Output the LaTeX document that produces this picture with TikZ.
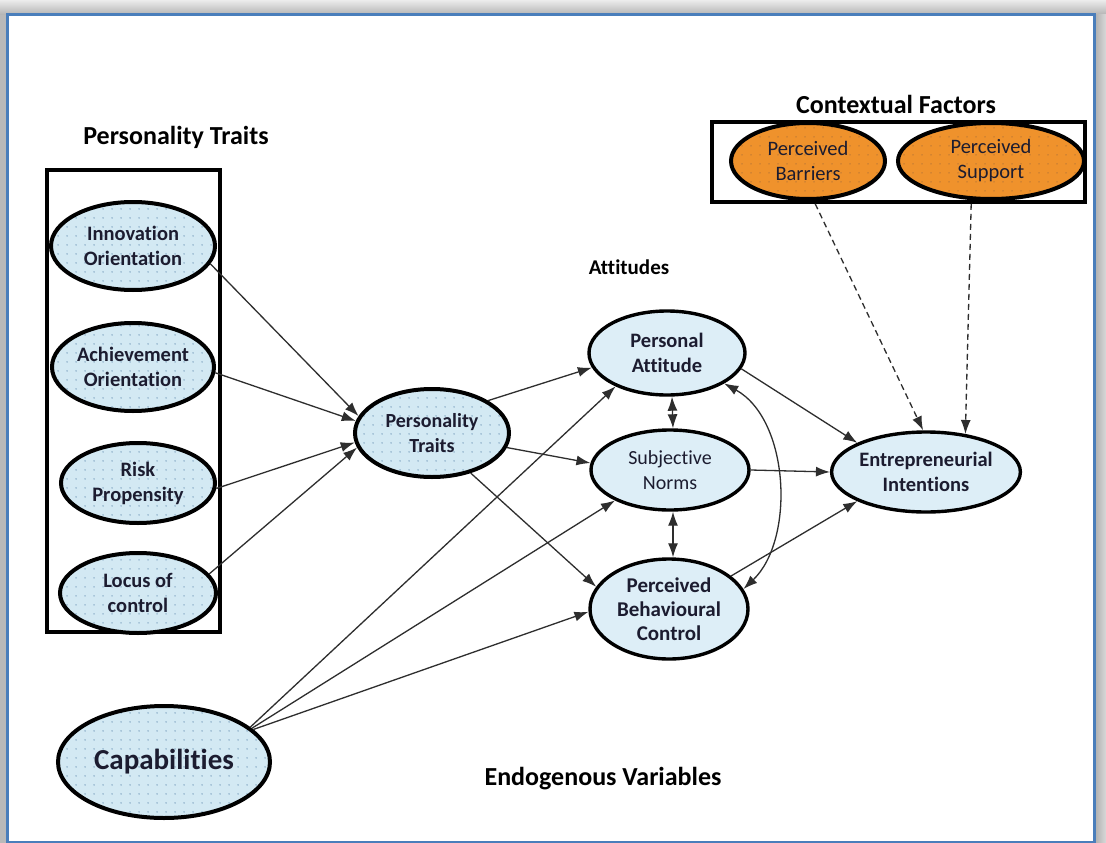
\documentclass[tikz,border=0pt]{standalone}
\usepackage{fontspec}
\setmainfont{Carlito}[Ligatures=NoCommon]
\usetikzlibrary{shapes.geometric,arrows.meta,patterns.meta,calc}

\definecolor{frameblue}{HTML}{4A7EBB}
\definecolor{lblue}{HTML}{D3E9F3}
\definecolor{pblue}{HTML}{DDEEF7}
\definecolor{dotblue}{HTML}{7FA3C0}
\definecolor{orng}{HTML}{EF922C}
\definecolor{dotorg}{HTML}{B87636}
\definecolor{txt}{HTML}{1C1C30}
\definecolor{lineg}{HTML}{2E2E2E}

\tikzdeclarepattern{
  name=sparsedots, type=uncolored,
  bounding box={(0pt,0pt) and (9pt,9pt)},
  tile size={(9pt,9pt)},
  code={\fill (4.5pt,4.5pt) circle (0.85pt);}
}

\tikzset{
  oval/.style={ellipse, draw=black, inner sep=0pt, align=center, text=txt},
  trait/.style={oval, line width=4pt, preaction={fill=lblue},
    pattern=sparsedots, pattern color=dotblue,
    font=\bfseries\fontsize{20.5}{25}\selectfont},
  att/.style={oval, line width=3.4pt, fill=pblue,
    font=\bfseries\fontsize{20.5}{25}\selectfont},
  ctxoval/.style={oval, line width=4pt, preaction={fill=orng},
    pattern=sparsedots, pattern color=dotorg,
    font=\fontsize{20.5}{25}\selectfont},
  groupbox/.style={draw=black, line width=3.6pt, inner sep=0pt},
  title/.style={font=\bfseries\fontsize{26}{30}\selectfont, text=black},
  arr/.style={draw=lineg, line width=1.3pt, -{Latex[length=14pt,width=10pt]}},
  biarr/.style={draw=lineg, line width=1.3pt, {Latex[length=14pt,width=10pt]}-{Latex[length=14pt,width=10pt]}},
  dasharr/.style={arr, dash pattern=on 6pt off 4pt},
}

\begin{document}
\begin{tikzpicture}[x=1pt,y=-1pt]
% page, drop shadow and blue frame
\useasboundingbox (0,0) rectangle (1106,843);
\fill[gray!55] (0,0) rectangle (1106,843);
\shade[top color=gray!15, bottom color=gray!60] (0,0) rectangle (1106,15);
\shade[left color=gray!65, right color=gray!30] (1094,15) rectangle (1106,843);
\fill[white] (7,15) rectangle (1094,842);
\draw[frameblue, line width=3pt] (7,15) rectangle (1094,842);

% titles
\node[title] (tpt) at (176,137) {Personality Traits};
\node[title] (tcf) at (896,104) {Contextual Factors};
\node[title, font=\bfseries\fontsize{21}{24}\selectfont] (tatt) at (629,267) {Attitudes};
\node[title] (tend) at (603,779) {Endogenous Variables};

% group boxes
\node[groupbox, minimum width=173pt, minimum height=462pt] (ptbox) at (133.5,401) {};
\node[groupbox, minimum width=373pt, minimum height=80pt] (cfbox) at (898.5,162) {};

% personality traits
\node[trait, minimum width=164pt, minimum height=88pt] (inn) at (133,246) {Innovation\\Orientation};
\node[trait, minimum width=162pt, minimum height=88pt] (ach) at (133,367) {Achievement\\Orientation};
\node[trait, minimum width=154pt, minimum height=80pt] (risk) at (138,483) {Risk\\Propensity};
\node[trait, minimum width=156pt, minimum height=80pt] (loc) at (138,593) {Locus of\\control};
\node[trait, minimum width=154pt, minimum height=88pt,
      font=\bfseries\fontsize{20}{25}\selectfont] (pt) at (432,433) {Personality\\Traits};
\node[trait, minimum width=212pt, minimum height=112pt,
      font=\bfseries\fontsize{29}{33}\selectfont] (cap) at (164,762) {Capabilities};

% attitudes and intentions
\node[att, minimum width=156pt, minimum height=84pt] (pa) at (667,353) {Personal\\Attitude};
\node[att, minimum width=158pt, minimum height=80pt,
      font=\fontsize{20}{25}\selectfont] (sn) at (670,470) {Subjective\\Norms};
\node[att, minimum width=158pt, minimum height=100pt,
      font=\bfseries\fontsize{21}{24}\selectfont] (pbc) at (669,609) {Perceived\\Behavioural\\Control};
\node[att, minimum width=164pt, minimum height=80pt] (ei) at (926,472) {Entrepreneurial\\Intentions};

% contextual factors
\node[ctxoval, minimum width=154pt, minimum height=76pt] (bar) at (808,161) {Perceived\\Barriers};
\node[ctxoval, minimum width=186pt, minimum height=76pt] (sup) at (991,161) {Perceived\\Support};

% traits feed the personality construct
\draw[arr] (inn.-13) -- (pt.167);
\draw[arr] (ach.-4) -- (pt.171);
\draw[arr] (risk.-4) -- (pt.187);
\draw[arr] (loc.15) -- (pt.191);

% personality construct feeds attitudes
\draw[arr] (pt.30) -- (pa.191);
\draw[arr] (pt.-11) -- (sn.175);
\draw[arr] (pt.-46) -- (pbc.163);

% capabilities feed attitudes
\draw[arr] (cap.22) -- (pa.213);
\draw[arr] (cap.21) -- (sn.209);
\draw[arr] (cap.20) -- (pbc.182);

% correlations among attitudes
\draw[biarr] ($(pa.south)+(5,0)$) -- ($(sn.north)+(3,0)$);
\draw[biarr] ($(sn.south)+(3,0)$) -- ($(pbc.north)+(4,0)$);
\draw[biarr] (pa.-28) .. controls (790,420) and (795,540) .. (pbc.15);

% attitudes feed intentions
\draw[arr] (pa.-12) -- (ei.157);
\draw[arr] (sn.east) -- (ei.west);
\draw[arr] (pbc.28) -- (ei.203);

% contextual factors moderate intentions
\coordinate (cb) at ($(cfbox.south west)+(105,0)$);
\coordinate (cs) at ($(cfbox.south west)+(261,0)$);
\draw[dasharr] (cb) -- (ei.94);
\draw[dasharr] (cs) -- (ei.44);
\end{tikzpicture}
\end{document}
